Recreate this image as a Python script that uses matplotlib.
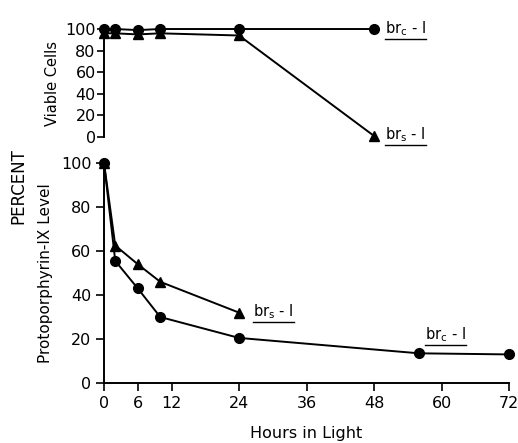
import matplotlib
matplotlib.use("Agg")
import matplotlib.pyplot as plt
from matplotlib.lines import Line2D
from matplotlib.transforms import IdentityTransform

# viable cells (top panel)
viable_hours = [0, 2, 6, 10, 24, 48]
viable_brc = [100, 100, 99, 100, 100, 100]
viable_brs = [96, 96, 95, 96, 94, 1]

# protoporphyrin IX level (bottom panel)
proto_hours_brc = [0, 2, 6, 10, 24, 56, 72]
proto_brc = [100, 55.5, 43, 30, 20.5, 13.5, 13]
proto_hours_brs = [0, 2, 6, 10, 24]
proto_brs = [100, 62.5, 54, 46, 32]

x_ticks = [0, 6, 12, 24, 36, 48, 60, 72]
y_ticks = [0, 20, 40, 60, 80, 100]

plt.rcParams['font.family'] = ['DejaVu Sans']
plt.rcParams['mathtext.fontset'] = 'dejavusans'

fig = plt.figure(figsize=(5.18, 4.43), dpi=100)
ax_top = fig.add_axes([0.2008, 0.6907, 0.7819, 0.2438])
ax_bot = fig.add_axes([0.2008, 0.1354, 0.7819, 0.4966])

line_kw = dict(color='black', linewidth=1.4, markersize=7, clip_on=False, zorder=3)

ax_top.plot(viable_hours, viable_brc, marker='o', **line_kw)
ax_top.plot(viable_hours, viable_brs, marker='^', **line_kw)
ax_bot.plot(proto_hours_brc, proto_brc, marker='o', **line_kw)
ax_bot.plot(proto_hours_brs, proto_brs, marker='^', **line_kw)

for ax in (ax_top, ax_bot):
    ax.set_xlim(0, 72)
    ax.set_ylim(0, 100)
    ax.set_yticks(y_ticks)
    ax.spines['top'].set_visible(False)
    ax.spines['right'].set_visible(False)
    ax.spines['left'].set_linewidth(1.4)
    ax.tick_params(direction='out', width=1.2, length=6)

ax_top.spines['bottom'].set_visible(False)
ax_top.set_xticks([])
ax_top.tick_params(axis='y', labelsize=11.5, pad=1, length=5)

ax_bot.spines['bottom'].set_linewidth(1.4)
ax_bot.set_xticks(x_ticks)
ax_bot.tick_params(axis='both', labelsize=11.5, pad=3)

ax_top.set_ylabel("Viable Cells", fontsize=10.5, labelpad=4)
ax_bot.set_ylabel("Protoporphyrin-IX Level", fontsize=11, labelpad=6)
ax_bot.set_xlabel("Hours in Light", fontsize=11.5, labelpad=11)
fig.text(0.035, 0.58, "PERCENT", rotation=90, fontsize=12, ha='center', va='center')

labels = [
    (ax_top, 50, 100, r'br$_\mathrm{c}$ - I'),
    (ax_top, 50, 2, r'br$_\mathrm{s}$ - I'),
    (ax_bot, 26.5, 32.5, r'br$_\mathrm{s}$ - I'),
    (ax_bot, 57, 22, r'br$_\mathrm{c}$ - I'),
]
texts = []
for ax, x, y, s in labels:
    texts.append(ax.text(x, y, s, fontsize=10.5, ha='left', va='center'))

# underline the strain names
fig.canvas.draw()
renderer = fig.canvas.get_renderer()
for t in texts:
    bb = t.get_window_extent(renderer)
    fig.add_artist(Line2D([bb.x0, bb.x1], [bb.y0 - 1, bb.y0 - 1],
                          color='black', linewidth=1.0, transform=IdentityTransform()))

fig.savefig("out.png", dpi=100)
